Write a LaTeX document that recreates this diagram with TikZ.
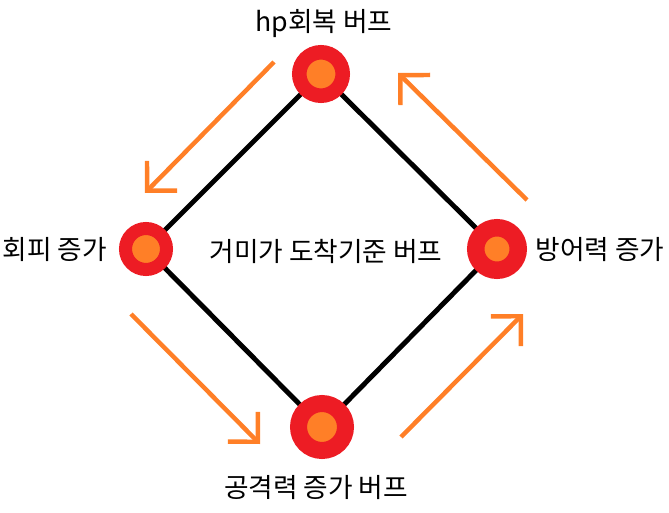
\documentclass[tikz,border=0pt]{standalone}
\usepackage{fontspec}
\setmainfont{Noto Sans CJK KR}
\usetikzlibrary{arrows.meta,backgrounds}
\definecolor{buffred}{RGB}{237,28,36}
\definecolor{bufforange}{RGB}{255,127,39}

\begin{document}
\begin{tikzpicture}[x=0.03cm,y=-0.03cm,
  buff/.style 2 args={circle,inner sep=0pt,fill=bufforange,draw=buffred,minimum size=#1,line width=#2},
  link/.style={line width=4.2pt,black},
  turn/.style={line width=3.8pt,bufforange,-{Straight Barb[length=18pt,width=36pt]}},
  lbl/.style={font=\fontsize{22.8}{26}\selectfont}]
\useasboundingbox (0,0) rectangle (669,513);
   % buff points
   \node[buff={37.1pt}{12.4pt}] (hp) at (321,74) {};
   \node[buff={35pt}{11.1pt}] (dodge) at (146,249) {};
   \node[buff={36.3pt}{14.9pt}] (def) at (497,249) {};
   \node[buff={40.1pt}{14.5pt}] (atk) at (322,427) {};
   \begin{scope}[on background layer]
    \foreach \a/\b in {hp/dodge,dodge/atk,atk/def,def/hp}
      \draw[link] (\a.center) -- (\b.center);
   \end{scope}
   % labels
   \node[lbl] (hptext) at (324,24) {hp회복 버프};
   \node[lbl] (dodgetext) at (55,249) {회피 증가};
   \node[lbl] (middle) at (326,251) {거미가 도착기준 버프};
   \node[lbl] (deftext) at (600,250) {방어력 증가};
   \node[lbl] (atktext) at (316,488) {공격력 증가 버프};
   % arrows
   \coordinate (s1) at (274,62);  \coordinate (e1) at (145,193);
   \coordinate (s2) at (131,314); \coordinate (e2) at (260,444);
   \coordinate (s3) at (401,437); \coordinate (e3) at (523,314);
   \coordinate (s4) at (527,200); \coordinate (e4) at (398,73);
   \foreach \i in {1,2,3,4}
     \draw[turn] (s\i) -- (e\i);
\end{tikzpicture}
\end{document}
